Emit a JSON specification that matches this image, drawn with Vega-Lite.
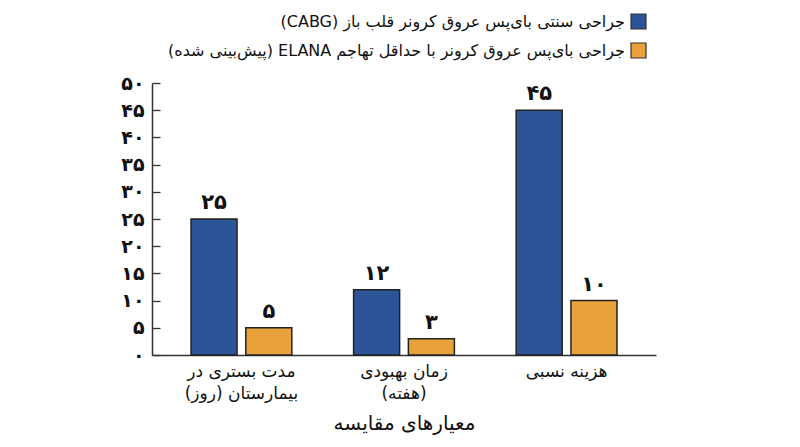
{
  "$schema": "https://vega.github.io/schema/vega-lite/v6.json",
  "width": 504,
  "height": 272,
  "autosize": {"type": "none"},
  "padding": {"left": 152, "top": 83, "right": 144, "bottom": 92},
  "background": "white",
  "config": {
    "font": "DejaVu Sans",
    "view": {"stroke": null}
  },
  "data": {
    "values": [
      {"metric": "مدت بستری در بیمارستان (روز)", "method": "‫جراحی سنتی بای‌پس عروق کرونر قلب باز (CABG)‬", "value": 25, "label": "۲۵"},
      {"metric": "مدت بستری در بیمارستان (روز)", "method": "‫جراحی بای‌پس عروق کرونر با حداقل تهاجم ELANA (پیش‌بینی شده)‬", "value": 5, "label": "۵"},
      {"metric": "زمان بهبودی (هفته)", "method": "‫جراحی سنتی بای‌پس عروق کرونر قلب باز (CABG)‬", "value": 12, "label": "۱۲"},
      {"metric": "زمان بهبودی (هفته)", "method": "‫جراحی بای‌پس عروق کرونر با حداقل تهاجم ELANA (پیش‌بینی شده)‬", "value": 3, "label": "۳"},
      {"metric": "هزینه نسبی", "method": "‫جراحی سنتی بای‌پس عروق کرونر قلب باز (CABG)‬", "value": 45, "label": "۴۵"},
      {"metric": "هزینه نسبی", "method": "‫جراحی بای‌پس عروق کرونر با حداقل تهاجم ELANA (پیش‌بینی شده)‬", "value": 10, "label": "۱۰"}
    ]
  },
  "encoding": {
    "x": {
      "field": "metric",
      "type": "nominal",
      "sort": null,
      "scale": {"paddingInner": 0.38, "paddingOuter": 0.24},
      "axis": {
        "title": "معیارهای مقایسه",
        "titleFontSize": 20,
        "titleFontWeight": "normal",
        "titleColor": "#111",
        "titlePadding": 12,
        "labelAngle": 0,
        "labelFontSize": 17,
        "labelColor": "#111",
        "labelPadding": 8,
        "labelLineHeight": 22,
        "labelBaseline": "top",
        "labelExpr": "datum.value == 'هزینه نسبی' ? '‫هزینه نسبی‬' : datum.value == 'زمان بهبودی (هفته)' ? ['‫زمان بهبودی‬', '‫(هفته)‬'] : ['‫مدت بستری در‬', '‫بیمارستان (روز)‬']",
        "ticks": false,
        "domainColor": "#333",
        "domainWidth": 1.5
      }
    },
    "xOffset": {
      "field": "method",
      "type": "nominal",
      "sort": null,
      "scale": {"paddingInner": 0.16, "paddingOuter": 0}
    },
    "y": {
      "field": "value",
      "type": "quantitative",
      "scale": {"domain": [0, 50], "nice": false},
      "axis": {
        "title": null,
        "values": [0, 5, 10, 15, 20, 25, 30, 35, 40, 45, 50],
        "labelExpr": "['۰','۵','۱۰','۱۵','۲۰','۲۵','۳۰','۳۵','۴۰','۴۵','۵۰'][round(datum.value / 5)]",
        "labelFontSize": 19,
        "labelFontWeight": "bold",
        "labelColor": "#111",
        "labelPadding": 16,
        "grid": false,
        "tickSize": -8,
        "tickColor": "#333",
        "tickWidth": 1.3,
        "domainColor": "#333",
        "domainWidth": 1.5
      }
    }
  },
  "layer": [
    {
      "mark": {"type": "bar", "stroke": "#222", "strokeWidth": 1.5},
      "encoding": {
        "color": {
          "field": "method",
          "type": "nominal",
          "sort": null,
          "scale": {"range": ["#2d5497", "#e9a23b"]},
          "legend": {
            "title": null,
            "orient": "none",
            "legendX": 478,
            "legendY": -70,
            "direction": "vertical",
            "symbolType": "square",
            "symbolSize": 225,
            "symbolStrokeColor": "#333",
            "symbolStrokeWidth": 1.2,
            "symbolOpacity": 1,
            "labelFontSize": 16,
            "labelColor": "#111",
            "labelAlign": "right",
            "labelOffset": -22,
            "labelLimit": 600,
            "rowPadding": 8
          }
        }
      }
    },
    {
      "mark": {"type": "text", "baseline": "bottom", "dy": -6, "fontSize": 21, "fontWeight": "bold", "color": "#111"},
      "encoding": {"text": {"field": "label"}}
    }
  ]
}
